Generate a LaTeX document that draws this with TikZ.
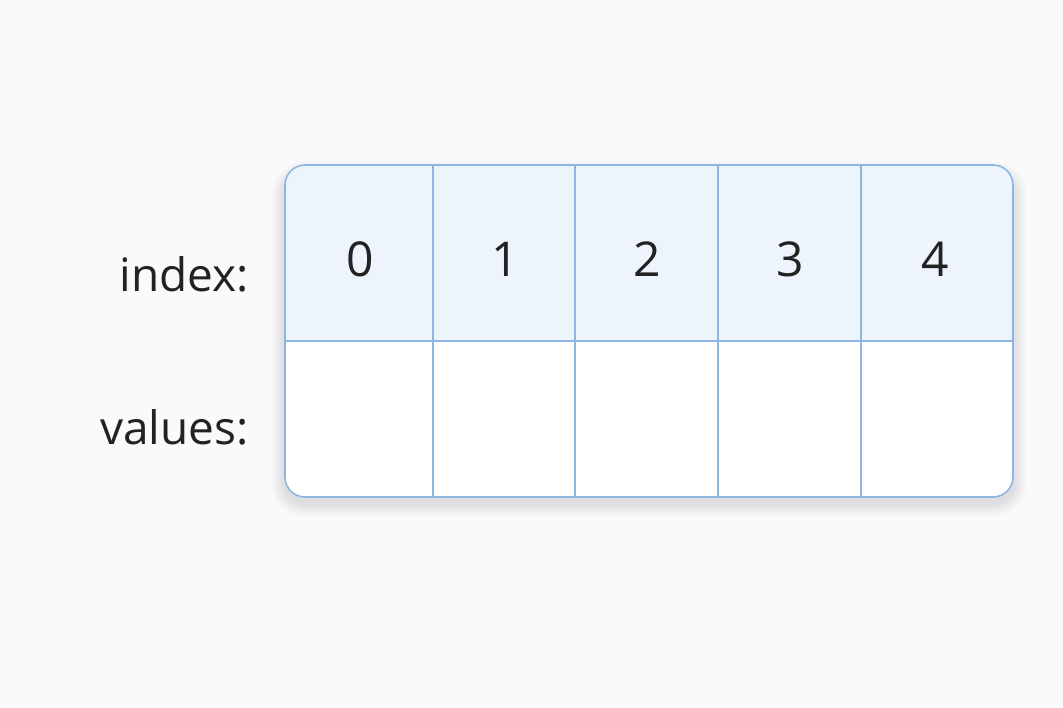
\documentclass[tikz,border=0pt]{standalone}
\usepackage{fontspec}
\setmainfont{Open Sans}
\definecolor{bg}{HTML}{FAF9FB}
\definecolor{gridblue}{HTML}{8DB6E2}
\definecolor{headfill}{HTML}{EEF4FC}
\definecolor{ink}{HTML}{222222}
\tikzset{
  digit/.style={text=ink, font=\fontsize{48}{56}\selectfont, inner sep=0pt},
  rowlabel/.style={text=ink, font=\fontsize{46}{54}\selectfont, inner sep=0pt, anchor=base east},
  gridline/.style={draw=gridblue, line width=1.3pt}
}
\begin{document}
\begin{tikzpicture}[x=1pt,y=-1pt]
\fill[bg] (0,0) rectangle (1063,707);
\useasboundingbox (0,0) rectangle (1063,707);
% soft shadow
\foreach \i in {1,...,14} {
  \fill[black, opacity=0.006, rounded corners={20pt+\i pt}]
    (285-\i,165-\i+10) rectangle (1013+\i,497+\i+6);
}
% table body
\fill[white, rounded corners=20pt] (285,165) rectangle (1013,497);
\begin{scope}
  \clip[rounded corners=20pt] (285,165) rectangle (1013,497);
  \fill[headfill] (285,165) rectangle (1013,341);
\end{scope}
% grid
\draw[gridline] (285,341) -- (1013,341);
\foreach \x in {433,575,718,861} \draw[gridline] (\x,165) -- (\x,497);
\draw[gridline, line width=1.6pt, rounded corners=20pt] (285,165) rectangle (1013,497);
% header digits
\node[digit] (h0) at (360,259) {0};
\node[digit] (h1) at (505,259) {1};
\node[digit] (h2) at (647,259) {2};
\node[digit] (h3) at (790,259) {3};
\node[digit] (h4) at (935,259) {4};
% row labels
\node[rowlabel] (lidx) at (249,291) {index:};
\node[rowlabel] (lval) at (249,444) {values:};
\end{tikzpicture}
\end{document}
